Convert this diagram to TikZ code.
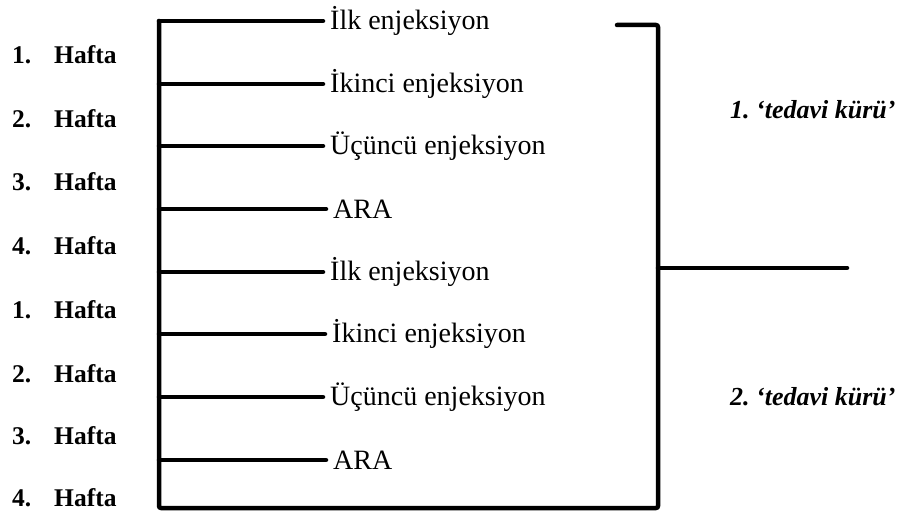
\documentclass[tikz,border=0pt]{standalone}
\usepackage{fontspec}
\setmainfont{Liberation Serif}
\usetikzlibrary{positioning}
\tikzset{
    week_node/.style = {anchor=west, inner sep=0pt, font=\fontsize{25.5}{25.5}\selectfont\bfseries},
    inj_node/.style = {anchor=west, inner sep=1pt, font=\fontsize{28}{28}\selectfont},
    cure_node/.style = {anchor=west, inner sep=0pt, font=\fontsize{26}{26}\selectfont\bfseries\itshape},
    bar/.style = {line width=4.5pt, line cap=round, shorten >=6pt},
    frame/.style = {line width=4.5pt, line cap=round, line join=round, rounded corners=2pt}
}

\begin{document}
\begin{tikzpicture}[x=1pt, y=-1pt]
\useasboundingbox (0,0) rectangle (901,513);
% weeks
\node [week_node] (w1) at (12,55)  {\makebox[42pt][l]{1.}Hafta};
\node [week_node] (w2) at (12,119) {\makebox[42pt][l]{2.}Hafta};
\node [week_node] (w3) at (12,182) {\makebox[42pt][l]{3.}Hafta};
\node [week_node] (w4) at (12,246) {\makebox[42pt][l]{4.}Hafta};
\node [week_node] (w5) at (12,310) {\makebox[42pt][l]{1.}Hafta};
\node [week_node] (w6) at (12,374) {\makebox[42pt][l]{2.}Hafta};
\node [week_node] (w7) at (12,436) {\makebox[42pt][l]{3.}Hafta};
\node [week_node] (w8) at (12,498) {\makebox[42pt][l]{4.}Hafta};
% spine
\coordinate (s1) at (159,21);
\coordinate (s2) at (159,84);
\coordinate (s3) at (159,146);
\coordinate (s4) at (159,209);
\coordinate (s5) at (159,272);
\coordinate (s6) at (159,334);
\coordinate (s7) at (159,397);
\coordinate (s8) at (159,460);
\coordinate (bot_l) at (159,508);
\coordinate (bot_r) at (658,508);
\coordinate (top_r) at (658,25);
\coordinate (top_l) at (617,25);
\coordinate (join) at (658,268);
\coordinate (tail) at (847,268);
% injections
\node [inj_node] (i1) at (329,21)  {İlk enjeksiyon};
\node [inj_node] (i2) at (329,84)  {İkinci enjeksiyon};
\node [inj_node] (i3) at (329,146) {Üçüncü enjeksiyon};
\node [inj_node] (i4) at (332,209) {ARA};
\node [inj_node] (i5) at (329,272) {İlk enjeksiyon};
\node [inj_node] (i6) at (331,334) {İkinci enjeksiyon};
\node [inj_node] (i7) at (329,397) {Üçüncü enjeksiyon};
\node [inj_node] (i8) at (332,460) {ARA};
% cures
\node [cure_node] (c1) at (730,110) {1.\ ‘tedavi kürü’};
\node [cure_node] (c2) at (730,397) {2.\ ‘tedavi kürü’};

\draw [frame] (s1) -- (bot_l) -- (bot_r) -- (top_r) -- (top_l);
\draw [bar] (s1) -- (i1.west);
\draw [bar] (s2) -- (i2.west);
\draw [bar] (s3) -- (i3.west);
\draw [bar] (s4) -- (i4.west);
\draw [bar] (s5) -- (i5.west);
\draw [bar] (s6) -- (i6.west);
\draw [bar] (s7) -- (i7.west);
\draw [bar] (s8) -- (i8.west);
\draw [frame] (join) -- (tail);
\end{tikzpicture}
\end{document}
